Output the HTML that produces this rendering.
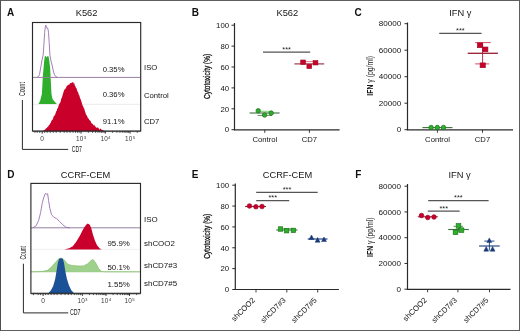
<!DOCTYPE html>
<html><head><meta charset="utf-8"><style>
html,body{margin:0;padding:0;background:#fff;}
#fig{position:relative;width:520px;height:331px;overflow:hidden;background:#fff;}
#fig svg{position:absolute;left:0;top:0;filter:blur(0.35px);}
#fig .bd{position:absolute;left:0;top:0;width:520px;height:331px;box-sizing:border-box;border:1px solid #5e5e5e;border-bottom-width:1.5px;border-left-color:#4e4e4e;}
text{font-family:"Liberation Sans",sans-serif;}
</style></head><body>
<div id="fig">
<svg width="520" height="331" viewBox="0 0 520 331" font-family="Liberation Sans, sans-serif">
<text x="7" y="16" font-size="10" text-anchor="start" font-weight="bold" fill="#111" >A</text>
<text x="191.8" y="16" font-size="10" text-anchor="start" font-weight="bold" fill="#111" >B</text>
<text x="354.5" y="16" font-size="10" text-anchor="start" font-weight="bold" fill="#111" >C</text>
<text x="7.2" y="177.8" font-size="10" text-anchor="start" font-weight="bold" fill="#111" >D</text>
<text x="191.8" y="178.3" font-size="10" text-anchor="start" font-weight="bold" fill="#111" >E</text>
<text x="355.2" y="178.3" font-size="10" text-anchor="start" font-weight="bold" fill="#111" >F</text>
<text x="86.6" y="15.9" font-size="9.3" text-anchor="middle" font-weight="normal" fill="#141414" >K562</text>
<text x="287.3" y="15.9" font-size="9.3" text-anchor="middle" font-weight="normal" fill="#141414" >K562</text>
<text x="460.3" y="15.9" font-size="9.3" text-anchor="middle" font-weight="normal" fill="#141414" >IFN γ</text>
<text x="85.5" y="178.3" font-size="9.3" text-anchor="middle" font-weight="normal" fill="#141414" >CCRF-CEM</text>
<text x="287.5" y="178.3" font-size="9.3" text-anchor="middle" font-weight="normal" fill="#141414" >CCRF-CEM</text>
<text x="459.6" y="178.3" font-size="9.3" text-anchor="middle" font-weight="normal" fill="#141414" >IFN γ</text>
<line x1="32.5" y1="104.3" x2="140.7" y2="104.3" stroke="#e6e6e6" stroke-width="0.8"/>
<path d="M43,131 L43.00,130.80 L43.55,130.48 L44.10,130.17 L44.65,129.85 L45.20,129.53 L45.75,128.84 L46.30,128.00 L46.85,128.37 L47.40,126.81 L47.95,127.11 L48.50,126.12 L49.05,124.85 L49.60,124.96 L50.15,123.37 L50.70,123.01 L51.25,121.28 L51.80,120.24 L52.35,119.76 L52.90,119.33 L53.45,116.92 L54.00,115.95 L54.55,115.51 L55.10,114.83 L55.65,112.89 L56.20,111.30 L56.75,111.08 L57.30,108.14 L57.85,108.39 L58.40,106.19 L58.95,104.74 L59.50,103.52 L60.05,102.68 L60.60,102.00 L61.15,99.12 L61.70,98.10 L62.25,96.47 L62.80,94.27 L63.35,92.87 L63.90,90.66 L64.45,89.64 L65.00,88.89 L65.55,88.74 L66.10,87.39 L66.65,86.29 L67.20,85.88 L67.75,85.08 L68.30,84.44 L68.85,84.96 L69.40,84.42 L69.95,83.18 L70.50,83.33 L71.05,82.81 L71.60,83.01 L72.15,82.33 L72.70,82.04 L73.25,84.03 L73.80,82.06 L74.35,83.48 L74.90,85.70 L75.45,86.23 L76.00,87.96 L76.55,88.23 L77.10,90.44 L77.65,91.69 L78.20,92.59 L78.75,94.69 L79.30,95.22 L79.85,97.45 L80.40,98.82 L80.95,100.34 L81.50,101.64 L82.05,103.83 L82.60,105.52 L83.15,106.17 L83.70,108.01 L84.25,108.43 L84.80,111.00 L85.35,112.25 L85.90,114.22 L86.45,115.27 L87.00,115.65 L87.55,117.18 L88.10,118.73 L88.65,118.34 L89.20,119.91 L89.75,120.16 L90.30,120.85 L90.85,121.52 L91.40,123.58 L91.95,123.17 L92.50,123.77 L93.05,124.41 L93.60,125.66 L94.15,124.62 L94.70,125.67 L95.25,126.24 L95.80,127.23 L96.35,127.50 L96.90,127.96 L97.45,127.30 L98.00,127.85 L98.55,128.02 L99.10,129.24 L99.65,129.65 L100.20,128.47 L100.75,128.79 L101.30,129.61 L101.85,129.82 L102.40,130.02 L102.95,130.22 L103.50,130.43 L104.05,130.63 L104.5,131 Z" fill="#c8002a"/>
<path d="M38.4,104 L40.1,101 L41.9,94 L42.8,77 L43.6,67.5 L44.3,60 L44.9,56.2 L45.6,55.8 L46.3,57.5 L47,56.8 L47.8,56 L48.6,56.5 L49.2,60 L50.1,67.5 L50.6,77 L51.5,94 L52.5,99 L54.1,101 L56.8,104 Z" fill="#2fae2c"/>
<line x1="32.5" y1="77.4" x2="140.7" y2="77.4" stroke="#9580a3" stroke-width="1.0"/>
<path d="M37,77.4 L38.5,76.6 L39.5,74.5 L40.1,71 L41,66 L42,60 L43.2,54.9 L44,42.6 L44.7,32.3 L45.3,27 L45.8,25.1 L46.4,26.5 L47,28.5 L47.8,28.2 L48.5,32.3 L49.2,42.6 L49.9,54.9 L51,61 L52.3,66 L53.3,71 L54.5,74.8 L55.8,76.6 L57.5,77.4" fill="none" stroke="#9a70b0" stroke-width="0.9"/>
<rect x="32.5" y="22.5" width="108.19999999999999" height="108.5" fill="none" stroke="#2a2a2a" stroke-width="1.15"/>
<line x1="42.2" y1="131.0" x2="42.2" y2="133.6" stroke="#2a2a2a" stroke-width="1.0"/>
<line x1="81.0" y1="131.0" x2="81.0" y2="133.6" stroke="#2a2a2a" stroke-width="1.0"/>
<line x1="105.3" y1="131.0" x2="105.3" y2="133.6" stroke="#2a2a2a" stroke-width="1.0"/>
<line x1="130.0" y1="131.0" x2="130.0" y2="133.6" stroke="#2a2a2a" stroke-width="1.0"/>
<line x1="88.31502889463474" y1="131.0" x2="88.31502889463474" y2="132.8" stroke="#2a2a2a" stroke-width="0.8"/>
<line x1="92.5940464896878" y1="131.0" x2="92.5940464896878" y2="132.8" stroke="#2a2a2a" stroke-width="0.8"/>
<line x1="95.63005778926949" y1="131.0" x2="95.63005778926949" y2="132.8" stroke="#2a2a2a" stroke-width="0.8"/>
<line x1="97.98497110536526" y1="131.0" x2="97.98497110536526" y2="132.8" stroke="#2a2a2a" stroke-width="0.8"/>
<line x1="99.90907538432253" y1="131.0" x2="99.90907538432253" y2="132.8" stroke="#2a2a2a" stroke-width="0.8"/>
<line x1="101.53588237234644" y1="131.0" x2="101.53588237234644" y2="132.8" stroke="#2a2a2a" stroke-width="0.8"/>
<line x1="102.94508668390422" y1="131.0" x2="102.94508668390422" y2="132.8" stroke="#2a2a2a" stroke-width="0.8"/>
<line x1="104.1880929793756" y1="131.0" x2="104.1880929793756" y2="132.8" stroke="#2a2a2a" stroke-width="0.8"/>
<line x1="112.61502889463473" y1="131.0" x2="112.61502889463473" y2="132.8" stroke="#2a2a2a" stroke-width="0.8"/>
<line x1="116.8940464896878" y1="131.0" x2="116.8940464896878" y2="132.8" stroke="#2a2a2a" stroke-width="0.8"/>
<line x1="119.93005778926948" y1="131.0" x2="119.93005778926948" y2="132.8" stroke="#2a2a2a" stroke-width="0.8"/>
<line x1="122.28497110536526" y1="131.0" x2="122.28497110536526" y2="132.8" stroke="#2a2a2a" stroke-width="0.8"/>
<line x1="124.20907538432253" y1="131.0" x2="124.20907538432253" y2="132.8" stroke="#2a2a2a" stroke-width="0.8"/>
<line x1="125.83588237234643" y1="131.0" x2="125.83588237234643" y2="132.8" stroke="#2a2a2a" stroke-width="0.8"/>
<line x1="127.24508668390422" y1="131.0" x2="127.24508668390422" y2="132.8" stroke="#2a2a2a" stroke-width="0.8"/>
<line x1="128.48809297937558" y1="131.0" x2="128.48809297937558" y2="132.8" stroke="#2a2a2a" stroke-width="0.8"/>
<line x1="35.0" y1="131.0" x2="35.0" y2="132.8" stroke="#2a2a2a" stroke-width="0.8"/>
<line x1="37.2" y1="131.0" x2="37.2" y2="132.8" stroke="#2a2a2a" stroke-width="0.8"/>
<line x1="39.7" y1="131.0" x2="39.7" y2="132.8" stroke="#2a2a2a" stroke-width="0.8"/>
<line x1="44.7" y1="131.0" x2="44.7" y2="132.8" stroke="#2a2a2a" stroke-width="0.8"/>
<line x1="47.2" y1="131.0" x2="47.2" y2="132.8" stroke="#2a2a2a" stroke-width="0.8"/>
<line x1="50.2" y1="131.0" x2="50.2" y2="132.8" stroke="#2a2a2a" stroke-width="0.8"/>
<line x1="53.2" y1="131.0" x2="53.2" y2="132.8" stroke="#2a2a2a" stroke-width="0.8"/>
<line x1="56.2" y1="131.0" x2="56.2" y2="132.8" stroke="#2a2a2a" stroke-width="0.8"/>
<line x1="60.2" y1="131.0" x2="60.2" y2="132.8" stroke="#2a2a2a" stroke-width="0.8"/>
<line x1="64.2" y1="131.0" x2="64.2" y2="132.8" stroke="#2a2a2a" stroke-width="0.8"/>
<line x1="67.0" y1="131.0" x2="67.0" y2="132.8" stroke="#2a2a2a" stroke-width="0.8"/>
<line x1="70.0" y1="131.0" x2="70.0" y2="132.8" stroke="#2a2a2a" stroke-width="0.8"/>
<line x1="73.0" y1="131.0" x2="73.0" y2="132.8" stroke="#2a2a2a" stroke-width="0.8"/>
<line x1="75.5" y1="131.0" x2="75.5" y2="132.8" stroke="#2a2a2a" stroke-width="0.8"/>
<line x1="77.5" y1="131.0" x2="77.5" y2="132.8" stroke="#2a2a2a" stroke-width="0.8"/>
<line x1="79.2" y1="131.0" x2="79.2" y2="132.8" stroke="#2a2a2a" stroke-width="0.8"/>
<line x1="137.31502889463474" y1="131.0" x2="137.31502889463474" y2="132.8" stroke="#2a2a2a" stroke-width="0.8"/>
<line x1="32.5" y1="131.6" x2="140.7" y2="131.6" stroke="#333" stroke-width="0.7"/>
<text x="42.2" y="141.0" font-size="6.6" text-anchor="middle" font-weight="normal" fill="#3a3a3a" >0</text>
<text x="81.2" y="141.0" font-size="6.4" text-anchor="middle" fill="#3a3a3a" letter-spacing="0.2">10<tspan font-size="4.4" dy="-2.4">3</tspan></text>
<text x="105.5" y="141.0" font-size="6.4" text-anchor="middle" fill="#3a3a3a" letter-spacing="0.2">10<tspan font-size="4.4" dy="-2.4">4</tspan></text>
<text x="130.2" y="141.0" font-size="6.4" text-anchor="middle" fill="#3a3a3a" letter-spacing="0.2">10<tspan font-size="4.4" dy="-2.4">5</tspan></text>
<text x="113.6" y="71.6" font-size="7.7" text-anchor="middle" font-weight="normal" fill="#141414" >0.35%</text>
<text x="113.6" y="96.6" font-size="7.7" text-anchor="middle" font-weight="normal" fill="#141414" >0.36%</text>
<text x="113.6" y="124.2" font-size="7.7" text-anchor="middle" font-weight="normal" fill="#141414" >91.1%</text>
<text x="144.0" y="70.2" font-size="7.7" text-anchor="start" font-weight="normal" fill="#141414" >ISO</text>
<text x="144.0" y="97.7" font-size="7.7" text-anchor="start" font-weight="normal" fill="#141414" >Control</text>
<text x="144.0" y="124.2" font-size="7.7" text-anchor="start" font-weight="normal" fill="#141414" >CD7</text>
<line x1="22.4" y1="100" x2="22.4" y2="149.4" stroke="#2a2a2a" stroke-width="1.0"/>
<line x1="22.4" y1="149.4" x2="68.2" y2="149.4" stroke="#2a2a2a" stroke-width="1.0"/>
<text transform="translate(22.1,89.1) rotate(-90) scale(0.6399,1)" x="0" y="0" font-size="8.2" text-anchor="middle" fill="#141414" font-weight="normal" stroke="#141414" stroke-width="0" dominant-baseline="central">Count</text>
<text transform="translate(71.7,151.9) scale(0.6279,1)" x="0" y="0" font-size="8.2" fill="#141414" font-weight="normal">CD7</text>
<line x1="30.9" y1="227.8" x2="140.5" y2="227.8" stroke="#9580a3" stroke-width="1.0"/>
<path d="M32.7,227.9 L36,225.9 L38.6,220.6 L40.6,212.6 L42.2,203.3 L43.6,198 L44.9,194.2 L46,193.3 L47,194.6 L47.6,193.7 L48.6,200.6 L49.9,208.6 L51.5,214.6 L53.9,217.3 L56.6,218.6 L59.3,221.2 L62.6,224.6 L65.9,227.2 L69.9,227.9" fill="none" stroke="#9a70b0" stroke-width="0.9"/>
<line x1="30.9" y1="249.4" x2="140.5" y2="249.4" stroke="#ececec" stroke-width="0.8"/>
<path d="M64.1,249.4 L69.2,248.3 L72.8,246.3 L76.4,241.6 L80,235.5 L82.6,230.3 L84.7,226.7 L86.2,224.7 L87.7,223.6 L89.8,224.7 L91.3,228.3 L92.9,234.4 L94.9,240.6 L97,245.2 L99.6,248.3 L101.6,249.4 Z" fill="#c8002a"/>
<path d="M30.9,271.8 L40,271.6 L43.2,271.3 L47.5,270.3 L51.9,266.6 L55.6,262.2 L58.5,259 L60.8,258.1 L62.5,258.6 L64.4,260 L66,262.2 L68,264.4 L72.4,265.5 L78.2,265.9 L83.4,265.9 L87.7,263.7 L90.7,260.8 L92.9,259.3 L95.8,263 L98.7,268.8 L101.6,271.3 L104,271.8 L140.5,271.8 Z" fill="#9fd08c" stroke="#7cbc68" stroke-width="0.6"/>
<path d="M48.3,293.3 L50.8,290.5 L53.2,286 L55.2,279 L56.6,270.5 L57.9,262.4 L59.1,258.8 L60.9,258.2 L62.8,258.8 L63.9,262.4 L65.2,270.5 L66.8,278.5 L69,285.5 L71.3,290.2 L74.2,293.3 Z" fill="#1b5197"/>
<rect x="30.9" y="183.4" width="109.6" height="109.9" fill="none" stroke="#2a2a2a" stroke-width="1.15"/>
<line x1="43.1" y1="293.3" x2="43.1" y2="295.90000000000003" stroke="#2a2a2a" stroke-width="1.0"/>
<line x1="82.3" y1="293.3" x2="82.3" y2="295.90000000000003" stroke="#2a2a2a" stroke-width="1.0"/>
<line x1="106.0" y1="293.3" x2="106.0" y2="295.90000000000003" stroke="#2a2a2a" stroke-width="1.0"/>
<line x1="129.5" y1="293.3" x2="129.5" y2="295.90000000000003" stroke="#2a2a2a" stroke-width="1.0"/>
<line x1="89.43441089723635" y1="293.3" x2="89.43441089723635" y2="295.1" stroke="#2a2a2a" stroke-width="0.8"/>
<line x1="93.607773736856" y1="293.3" x2="93.607773736856" y2="295.1" stroke="#2a2a2a" stroke-width="0.8"/>
<line x1="96.56882179447271" y1="293.3" x2="96.56882179447271" y2="295.1" stroke="#2a2a2a" stroke-width="0.8"/>
<line x1="98.86558910276365" y1="293.3" x2="98.86558910276365" y2="295.1" stroke="#2a2a2a" stroke-width="0.8"/>
<line x1="100.74218463409235" y1="293.3" x2="100.74218463409235" y2="295.1" stroke="#2a2a2a" stroke-width="0.8"/>
<line x1="102.32882354833788" y1="293.3" x2="102.32882354833788" y2="295.1" stroke="#2a2a2a" stroke-width="0.8"/>
<line x1="103.70323269170906" y1="293.3" x2="103.70323269170906" y2="295.1" stroke="#2a2a2a" stroke-width="0.8"/>
<line x1="104.915547473712" y1="293.3" x2="104.915547473712" y2="295.1" stroke="#2a2a2a" stroke-width="0.8"/>
<line x1="113.13441089723635" y1="293.3" x2="113.13441089723635" y2="295.1" stroke="#2a2a2a" stroke-width="0.8"/>
<line x1="117.307773736856" y1="293.3" x2="117.307773736856" y2="295.1" stroke="#2a2a2a" stroke-width="0.8"/>
<line x1="120.26882179447271" y1="293.3" x2="120.26882179447271" y2="295.1" stroke="#2a2a2a" stroke-width="0.8"/>
<line x1="122.56558910276365" y1="293.3" x2="122.56558910276365" y2="295.1" stroke="#2a2a2a" stroke-width="0.8"/>
<line x1="124.44218463409236" y1="293.3" x2="124.44218463409236" y2="295.1" stroke="#2a2a2a" stroke-width="0.8"/>
<line x1="126.0288235483379" y1="293.3" x2="126.0288235483379" y2="295.1" stroke="#2a2a2a" stroke-width="0.8"/>
<line x1="127.40323269170906" y1="293.3" x2="127.40323269170906" y2="295.1" stroke="#2a2a2a" stroke-width="0.8"/>
<line x1="128.615547473712" y1="293.3" x2="128.615547473712" y2="295.1" stroke="#2a2a2a" stroke-width="0.8"/>
<line x1="33.4" y1="293.3" x2="33.4" y2="295.1" stroke="#2a2a2a" stroke-width="0.8"/>
<line x1="38.1" y1="293.3" x2="38.1" y2="295.1" stroke="#2a2a2a" stroke-width="0.8"/>
<line x1="40.6" y1="293.3" x2="40.6" y2="295.1" stroke="#2a2a2a" stroke-width="0.8"/>
<line x1="45.6" y1="293.3" x2="45.6" y2="295.1" stroke="#2a2a2a" stroke-width="0.8"/>
<line x1="48.1" y1="293.3" x2="48.1" y2="295.1" stroke="#2a2a2a" stroke-width="0.8"/>
<line x1="51.1" y1="293.3" x2="51.1" y2="295.1" stroke="#2a2a2a" stroke-width="0.8"/>
<line x1="54.1" y1="293.3" x2="54.1" y2="295.1" stroke="#2a2a2a" stroke-width="0.8"/>
<line x1="57.1" y1="293.3" x2="57.1" y2="295.1" stroke="#2a2a2a" stroke-width="0.8"/>
<line x1="61.1" y1="293.3" x2="61.1" y2="295.1" stroke="#2a2a2a" stroke-width="0.8"/>
<line x1="65.1" y1="293.3" x2="65.1" y2="295.1" stroke="#2a2a2a" stroke-width="0.8"/>
<line x1="68.3" y1="293.3" x2="68.3" y2="295.1" stroke="#2a2a2a" stroke-width="0.8"/>
<line x1="71.3" y1="293.3" x2="71.3" y2="295.1" stroke="#2a2a2a" stroke-width="0.8"/>
<line x1="74.3" y1="293.3" x2="74.3" y2="295.1" stroke="#2a2a2a" stroke-width="0.8"/>
<line x1="76.8" y1="293.3" x2="76.8" y2="295.1" stroke="#2a2a2a" stroke-width="0.8"/>
<line x1="78.8" y1="293.3" x2="78.8" y2="295.1" stroke="#2a2a2a" stroke-width="0.8"/>
<line x1="80.5" y1="293.3" x2="80.5" y2="295.1" stroke="#2a2a2a" stroke-width="0.8"/>
<line x1="136.63441089723636" y1="293.3" x2="136.63441089723636" y2="295.1" stroke="#2a2a2a" stroke-width="0.8"/>
<line x1="30.9" y1="293.90000000000003" x2="140.5" y2="293.90000000000003" stroke="#333" stroke-width="0.7"/>
<text x="43.1" y="303.4" font-size="6.6" text-anchor="middle" font-weight="normal" fill="#3a3a3a" >0</text>
<text x="82.5" y="303.4" font-size="6.4" text-anchor="middle" fill="#3a3a3a" letter-spacing="0.2">10<tspan font-size="4.4" dy="-2.4">3</tspan></text>
<text x="106.2" y="303.4" font-size="6.4" text-anchor="middle" fill="#3a3a3a" letter-spacing="0.2">10<tspan font-size="4.4" dy="-2.4">4</tspan></text>
<text x="129.7" y="303.4" font-size="6.4" text-anchor="middle" fill="#3a3a3a" letter-spacing="0.2">10<tspan font-size="4.4" dy="-2.4">5</tspan></text>
<text x="118.6" y="246.4" font-size="7.9" text-anchor="middle" font-weight="normal" fill="#141414" >95.9%</text>
<text x="118.6" y="269.9" font-size="7.9" text-anchor="middle" font-weight="normal" fill="#141414" >50.1%</text>
<text x="118.6" y="287.3" font-size="7.9" text-anchor="middle" font-weight="normal" fill="#141414" >1.55%</text>
<text x="144.0" y="221.6" font-size="7.95" text-anchor="start" font-weight="normal" fill="#141414" >ISO</text>
<text x="144.0" y="246.3" font-size="7.95" text-anchor="start" font-weight="normal" fill="#141414" >shCOO2</text>
<text x="144.0" y="267.6" font-size="7.95" text-anchor="start" font-weight="normal" fill="#141414" >shCD7#3</text>
<text x="144.0" y="285.5" font-size="7.95" text-anchor="start" font-weight="normal" fill="#141414" >shCD7#5</text>
<line x1="23.4" y1="263.7" x2="23.4" y2="312.9" stroke="#2a2a2a" stroke-width="1.0"/>
<line x1="23.4" y1="312.9" x2="68.2" y2="312.9" stroke="#2a2a2a" stroke-width="1.0"/>
<text transform="translate(22.8,252.8) rotate(-90) scale(0.6141,1)" x="0" y="0" font-size="8.3" text-anchor="middle" fill="#141414" font-weight="normal" stroke="#141414" stroke-width="0" dominant-baseline="central">Count</text>
<text transform="translate(69.9,315.4) scale(0.6462,1)" x="0" y="0" font-size="8.2" fill="#141414" font-weight="normal">CD7</text>
<line x1="234.5" y1="23.0" x2="234.5" y2="130.2" stroke="#2a2a2a" stroke-width="1.2"/>
<line x1="231.5" y1="129.7" x2="234.5" y2="129.7" stroke="#2a2a2a" stroke-width="1.0"/>
<text x="229.1" y="132.45" font-size="7.8" text-anchor="end" font-weight="normal" fill="#141414" >0</text>
<line x1="231.5" y1="108.79999999999998" x2="234.5" y2="108.79999999999998" stroke="#2a2a2a" stroke-width="1.0"/>
<text x="229.1" y="111.54999999999998" font-size="7.8" text-anchor="end" font-weight="normal" fill="#141414" >20</text>
<line x1="231.5" y1="87.89999999999999" x2="234.5" y2="87.89999999999999" stroke="#2a2a2a" stroke-width="1.0"/>
<text x="229.1" y="90.64999999999999" font-size="7.8" text-anchor="end" font-weight="normal" fill="#141414" >40</text>
<line x1="231.5" y1="67.0" x2="234.5" y2="67.0" stroke="#2a2a2a" stroke-width="1.0"/>
<text x="229.1" y="69.75" font-size="7.8" text-anchor="end" font-weight="normal" fill="#141414" >60</text>
<line x1="231.5" y1="46.099999999999994" x2="234.5" y2="46.099999999999994" stroke="#2a2a2a" stroke-width="1.0"/>
<text x="229.1" y="48.849999999999994" font-size="7.8" text-anchor="end" font-weight="normal" fill="#141414" >80</text>
<line x1="231.5" y1="25.19999999999999" x2="234.5" y2="25.19999999999999" stroke="#2a2a2a" stroke-width="1.0"/>
<text x="229.1" y="27.94999999999999" font-size="7.8" text-anchor="end" font-weight="normal" fill="#141414" >100</text>
<line x1="233.9" y1="129.9" x2="339.6" y2="129.9" stroke="#2a2a2a" stroke-width="1.2"/>
<line x1="264.8" y1="129.9" x2="264.8" y2="132.9" stroke="#2a2a2a" stroke-width="0.9"/>
<line x1="309.4" y1="129.9" x2="309.4" y2="132.9" stroke="#2a2a2a" stroke-width="0.9"/>
<text x="264.8" y="142.1" font-size="7.7" text-anchor="middle" font-weight="normal" fill="#141414" >Control</text>
<text x="309.4" y="142.1" font-size="7.7" text-anchor="middle" font-weight="normal" fill="#141414" >CD7</text>
<text transform="translate(207.3,76.4) rotate(-90) scale(0.7937,1)" x="0" y="0" font-size="8.2" text-anchor="middle" fill="#141414" font-weight="normal" stroke="#141414" stroke-width="0.3" dominant-baseline="central">Cytotoxicity (%)</text>
<line x1="263" y1="52.0" x2="310.2" y2="52.0" stroke="#555555" stroke-width="1.25"/>
<text x="286.6" y="51.5" font-size="7.4" text-anchor="middle" font-weight="normal" fill="#222" >***</text>
<line x1="257.5" y1="111.3" x2="272" y2="111.3" stroke="#58c050" stroke-width="0.8"/>
<line x1="257.5" y1="115.4" x2="272" y2="115.4" stroke="#3d6e3d" stroke-width="0.8"/>
<line x1="249.6" y1="113.0" x2="279.6" y2="113.0" stroke="#3d6e3d" stroke-width="1.1"/>
<circle cx="258.2" cy="110.8" r="2.25" fill="#2fae2c" stroke="#1c6e1c" stroke-width="0.7"/>
<circle cx="264.6" cy="115.0" r="2.25" fill="#2fae2c" stroke="#1c6e1c" stroke-width="0.7"/>
<circle cx="271.2" cy="113.1" r="2.25" fill="#2fae2c" stroke="#1c6e1c" stroke-width="0.7"/>
<line x1="305" y1="61.6" x2="313" y2="61.6" stroke="#e05068" stroke-width="0.8"/>
<line x1="294.4" y1="63.9" x2="324.2" y2="63.9" stroke="#8e2a3c" stroke-width="1.1"/>
<rect x="300.70000000000005" y="60.0" width="4.8" height="4.4" fill="#c8002a" stroke="#9a0a26" stroke-width="0.6"/>
<rect x="306.90000000000003" y="64.2" width="4.8" height="4.4" fill="#c8002a" stroke="#9a0a26" stroke-width="0.6"/>
<rect x="313.1" y="60.599999999999994" width="4.8" height="4.4" fill="#c8002a" stroke="#9a0a26" stroke-width="0.6"/>
<line x1="407.5" y1="22.5" x2="407.5" y2="130.2" stroke="#2a2a2a" stroke-width="1.2"/>
<line x1="404.5" y1="129.7" x2="407.5" y2="129.7" stroke="#2a2a2a" stroke-width="1.0"/>
<text x="401.2" y="132.45" font-size="8.1" text-anchor="end" font-weight="normal" fill="#141414" >0</text>
<line x1="404.5" y1="103.19999999999999" x2="407.5" y2="103.19999999999999" stroke="#2a2a2a" stroke-width="1.0"/>
<text x="401.2" y="105.94999999999999" font-size="8.1" text-anchor="end" font-weight="normal" fill="#141414" >20000</text>
<line x1="404.5" y1="76.69999999999999" x2="407.5" y2="76.69999999999999" stroke="#2a2a2a" stroke-width="1.0"/>
<text x="401.2" y="79.44999999999999" font-size="8.1" text-anchor="end" font-weight="normal" fill="#141414" >40000</text>
<line x1="404.5" y1="50.19999999999999" x2="407.5" y2="50.19999999999999" stroke="#2a2a2a" stroke-width="1.0"/>
<text x="401.2" y="52.94999999999999" font-size="8.1" text-anchor="end" font-weight="normal" fill="#141414" >60000</text>
<line x1="404.5" y1="23.69999999999999" x2="407.5" y2="23.69999999999999" stroke="#2a2a2a" stroke-width="1.0"/>
<text x="401.2" y="26.44999999999999" font-size="8.1" text-anchor="end" font-weight="normal" fill="#141414" >80000</text>
<line x1="406.9" y1="129.8" x2="513.0" y2="129.8" stroke="#2a2a2a" stroke-width="1.2"/>
<line x1="437.4" y1="129.8" x2="437.4" y2="132.8" stroke="#2a2a2a" stroke-width="0.9"/>
<line x1="482.5" y1="129.8" x2="482.5" y2="132.8" stroke="#2a2a2a" stroke-width="0.9"/>
<text x="437.5" y="142.3" font-size="7.7" text-anchor="middle" font-weight="normal" fill="#141414" >Control</text>
<text x="482.5" y="142.3" font-size="7.7" text-anchor="middle" font-weight="normal" fill="#141414" >CD7</text>
<text transform="translate(370.1,75.8) rotate(-90) scale(0.8401,1)" x="0" y="0" font-size="8.2" text-anchor="middle" fill="#141414" dominant-baseline="central"><tspan font-weight="bold">IFN</tspan> γ (pg/ml)</text>
<line x1="439.2" y1="33.3" x2="481.6" y2="33.3" stroke="#555555" stroke-width="1.25"/>
<text x="460.4" y="32.6" font-size="7.4" text-anchor="middle" font-weight="normal" fill="#222" >***</text>
<line x1="422.4" y1="127.6" x2="452.5" y2="127.6" stroke="#3d6e3d" stroke-width="1.1"/>
<circle cx="431.1" cy="127.5" r="2.25" fill="#2fae2c" stroke="#1c6e1c" stroke-width="0.7"/>
<circle cx="437.3" cy="127.5" r="2.25" fill="#2fae2c" stroke="#1c6e1c" stroke-width="0.7"/>
<circle cx="443.5" cy="127.5" r="2.25" fill="#2fae2c" stroke="#1c6e1c" stroke-width="0.7"/>
<line x1="482.6" y1="42.6" x2="482.6" y2="63.9" stroke="#b01838" stroke-width="0.9"/>
<line x1="475.2" y1="42.6" x2="490.7" y2="42.6" stroke="#d84860" stroke-width="1.0"/>
<line x1="475.2" y1="63.9" x2="489.2" y2="63.9" stroke="#d84860" stroke-width="1.0"/>
<line x1="467.7" y1="53.3" x2="497.9" y2="53.3" stroke="#9a1a34" stroke-width="1.3"/>
<rect x="477.4" y="42.9" width="5.2" height="4.8" fill="#c8002a" stroke="#9a0a26" stroke-width="0.6"/>
<rect x="482.7" y="47.0" width="5.2" height="4.8" fill="#c8002a" stroke="#9a0a26" stroke-width="0.6"/>
<rect x="480.09999999999997" y="62.9" width="5.2" height="4.8" fill="#c8002a" stroke="#9a0a26" stroke-width="0.6"/>
<line x1="235.3" y1="183.5" x2="235.3" y2="290.0" stroke="#2a2a2a" stroke-width="1.2"/>
<line x1="232.3" y1="289.5" x2="235.3" y2="289.5" stroke="#2a2a2a" stroke-width="1.0"/>
<text x="229.1" y="292.25" font-size="7.8" text-anchor="end" font-weight="normal" fill="#141414" >0</text>
<line x1="232.3" y1="268.64" x2="235.3" y2="268.64" stroke="#2a2a2a" stroke-width="1.0"/>
<text x="229.1" y="271.39" font-size="7.8" text-anchor="end" font-weight="normal" fill="#141414" >20</text>
<line x1="232.3" y1="247.78" x2="235.3" y2="247.78" stroke="#2a2a2a" stroke-width="1.0"/>
<text x="229.1" y="250.53" font-size="7.8" text-anchor="end" font-weight="normal" fill="#141414" >40</text>
<line x1="232.3" y1="226.92000000000002" x2="235.3" y2="226.92000000000002" stroke="#2a2a2a" stroke-width="1.0"/>
<text x="229.1" y="229.67000000000002" font-size="7.8" text-anchor="end" font-weight="normal" fill="#141414" >60</text>
<line x1="232.3" y1="206.06" x2="235.3" y2="206.06" stroke="#2a2a2a" stroke-width="1.0"/>
<text x="229.1" y="208.81" font-size="7.8" text-anchor="end" font-weight="normal" fill="#141414" >80</text>
<line x1="232.3" y1="185.2" x2="235.3" y2="185.2" stroke="#2a2a2a" stroke-width="1.0"/>
<text x="229.1" y="187.95" font-size="7.8" text-anchor="end" font-weight="normal" fill="#141414" >100</text>
<line x1="234.70000000000002" y1="289.5" x2="338.9" y2="289.5" stroke="#2a2a2a" stroke-width="1.2"/>
<line x1="256.0" y1="289.5" x2="256.0" y2="292.5" stroke="#2a2a2a" stroke-width="0.9"/>
<line x1="286.8" y1="289.5" x2="286.8" y2="292.5" stroke="#2a2a2a" stroke-width="0.9"/>
<line x1="317.7" y1="289.5" x2="317.7" y2="292.5" stroke="#2a2a2a" stroke-width="0.9"/>
<text transform="translate(207.3,236.3) rotate(-90) scale(0.7937,1)" x="0" y="0" font-size="8.2" text-anchor="middle" fill="#141414" font-weight="normal" stroke="#141414" stroke-width="0.3" dominant-baseline="central">Cytotoxicity (%)</text>
<line x1="256.2" y1="192.3" x2="317.7" y2="192.3" stroke="#555555" stroke-width="1.25"/>
<text x="286.95" y="191.79999999999998" font-size="7.4" text-anchor="middle" font-weight="normal" fill="#222" >***</text>
<line x1="256.2" y1="200.7" x2="289.2" y2="200.7" stroke="#555555" stroke-width="1.25"/>
<text x="272.7" y="200.2" font-size="7.4" text-anchor="middle" font-weight="normal" fill="#222" >***</text>
<line x1="245.0" y1="206.5" x2="266.0" y2="206.5" stroke="#8e2a3c" stroke-width="1.1"/>
<circle cx="249.5" cy="206.0" r="2.3" fill="#c8002a" stroke="#9a0a26" stroke-width="0.7"/>
<circle cx="255.9" cy="206.75" r="2.3" fill="#c8002a" stroke="#9a0a26" stroke-width="0.7"/>
<circle cx="262.0" cy="206.5" r="2.3" fill="#c8002a" stroke="#9a0a26" stroke-width="0.7"/>
<line x1="280" y1="228.5" x2="293" y2="228.5" stroke="#58c050" stroke-width="0.8"/>
<line x1="276.3" y1="230.0" x2="297.5" y2="230.0" stroke="#3d6e3d" stroke-width="1.1"/>
<rect x="278.25" y="226.75" width="4.5" height="4.5" fill="#2fae2c" stroke="#1c6e1c" stroke-width="0.6"/>
<rect x="284.35" y="228.45" width="4.5" height="4.5" fill="#2fae2c" stroke="#1c6e1c" stroke-width="0.6"/>
<rect x="291.15" y="228.15" width="4.5" height="4.5" fill="#2fae2c" stroke="#1c6e1c" stroke-width="0.6"/>
<line x1="307.7" y1="239.0" x2="327.5" y2="239.0" stroke="#183a78" stroke-width="1.1"/>
<path d="M311.5,235.0 L313.95,239.5 L309.05,239.5 Z" fill="#183a78" stroke="#183a78" stroke-width="0.5" stroke-linejoin="round"/>
<path d="M317.6,237.5 L320.05,242.2 L315.15000000000003,242.2 Z" fill="#183a78" stroke="#183a78" stroke-width="0.5" stroke-linejoin="round"/>
<path d="M324.0,237.0 L326.45,241.5 L321.55,241.5 Z" fill="#183a78" stroke="#183a78" stroke-width="0.5" stroke-linejoin="round"/>
<line x1="407.5" y1="184.0" x2="407.5" y2="289.7" stroke="#2a2a2a" stroke-width="1.2"/>
<line x1="404.5" y1="289.2" x2="407.5" y2="289.2" stroke="#2a2a2a" stroke-width="1.0"/>
<text x="401.0" y="291.95" font-size="8.1" text-anchor="end" font-weight="normal" fill="#141414" >0</text>
<line x1="404.5" y1="263.45" x2="407.5" y2="263.45" stroke="#2a2a2a" stroke-width="1.0"/>
<text x="401.0" y="266.2" font-size="8.1" text-anchor="end" font-weight="normal" fill="#141414" >20000</text>
<line x1="404.5" y1="237.7" x2="407.5" y2="237.7" stroke="#2a2a2a" stroke-width="1.0"/>
<text x="401.0" y="240.45" font-size="8.1" text-anchor="end" font-weight="normal" fill="#141414" >40000</text>
<line x1="404.5" y1="211.95" x2="407.5" y2="211.95" stroke="#2a2a2a" stroke-width="1.0"/>
<text x="401.0" y="214.7" font-size="8.1" text-anchor="end" font-weight="normal" fill="#141414" >60000</text>
<line x1="404.5" y1="186.2" x2="407.5" y2="186.2" stroke="#2a2a2a" stroke-width="1.0"/>
<text x="401.0" y="188.95" font-size="8.1" text-anchor="end" font-weight="normal" fill="#141414" >80000</text>
<line x1="406.9" y1="289.3" x2="510.5" y2="289.3" stroke="#2a2a2a" stroke-width="1.2"/>
<line x1="427.6" y1="289.3" x2="427.6" y2="292.3" stroke="#2a2a2a" stroke-width="0.9"/>
<line x1="457.9" y1="289.3" x2="457.9" y2="292.3" stroke="#2a2a2a" stroke-width="0.9"/>
<line x1="489.5" y1="289.3" x2="489.5" y2="292.3" stroke="#2a2a2a" stroke-width="0.9"/>
<text transform="translate(370.1,237.2) rotate(-90) scale(0.8338,1)" x="0" y="0" font-size="8.2" text-anchor="middle" fill="#141414" dominant-baseline="central"><tspan font-weight="bold">IFN</tspan> γ (pg/ml)</text>
<line x1="428.2" y1="200.5" x2="488.6" y2="200.5" stroke="#555555" stroke-width="1.25"/>
<text x="458.4" y="200.0" font-size="7.4" text-anchor="middle" font-weight="normal" fill="#222" >***</text>
<line x1="427.8" y1="211.0" x2="459.7" y2="211.0" stroke="#555555" stroke-width="1.25"/>
<text x="443.75" y="210.5" font-size="7.4" text-anchor="middle" font-weight="normal" fill="#222" >***</text>
<line x1="417.75" y1="216.75" x2="437.75" y2="216.75" stroke="#8e2a3c" stroke-width="1.1"/>
<circle cx="421.5" cy="215.5" r="2.3" fill="#c8002a" stroke="#9a0a26" stroke-width="0.7"/>
<circle cx="427.75" cy="217.5" r="2.3" fill="#c8002a" stroke="#9a0a26" stroke-width="0.7"/>
<circle cx="434.0" cy="217.0" r="2.3" fill="#c8002a" stroke="#9a0a26" stroke-width="0.7"/>
<line x1="453.5" y1="226.3" x2="463" y2="226.3" stroke="#3d6e3d" stroke-width="0.8"/>
<line x1="458.4" y1="226.3" x2="458.4" y2="232.5" stroke="#3d6e3d" stroke-width="0.8"/>
<line x1="448.2" y1="229.5" x2="468.8" y2="229.5" stroke="#3d6e3d" stroke-width="1.1"/>
<rect x="456.15" y="223.55" width="4.7" height="4.7" fill="#2fae2c" stroke="#1c6e1c" stroke-width="0.6"/>
<rect x="453.15" y="229.95000000000002" width="4.7" height="4.7" fill="#2fae2c" stroke="#1c6e1c" stroke-width="0.6"/>
<rect x="459.15" y="227.85" width="4.7" height="4.7" fill="#2fae2c" stroke="#1c6e1c" stroke-width="0.6"/>
<line x1="479.1" y1="246.0" x2="499.7" y2="246.0" stroke="#183a78" stroke-width="1.1"/>
<line x1="484.3" y1="241.1" x2="494.5" y2="241.1" stroke="#183a78" stroke-width="0.9"/>
<line x1="489.4" y1="241.1" x2="489.4" y2="250.5" stroke="#183a78" stroke-width="0.9"/>
<path d="M489.3,237.9 L491.7,242.5 L486.90000000000003,242.5 Z" fill="#183a78" stroke="#183a78" stroke-width="0.5" stroke-linejoin="round"/>
<path d="M486.2,246.4 L488.59999999999997,251.2 L483.8,251.2 Z" fill="#183a78" stroke="#183a78" stroke-width="0.5" stroke-linejoin="round"/>
<path d="M492.6,246.4 L495.0,251.2 L490.20000000000005,251.2 Z" fill="#183a78" stroke="#183a78" stroke-width="0.5" stroke-linejoin="round"/>
<text transform="translate(253.8,298.9) rotate(-45)" x="0" y="0" font-size="7.7" text-anchor="end" fill="#141414" dominant-baseline="central">shCOO2</text>
<text transform="translate(284.6,298.9) rotate(-45)" x="0" y="0" font-size="7.7" text-anchor="end" fill="#141414" dominant-baseline="central">shCD7#3</text>
<text transform="translate(315.5,298.9) rotate(-45)" x="0" y="0" font-size="7.7" text-anchor="end" fill="#141414" dominant-baseline="central">shCD7#5</text>
<text transform="translate(425.40000000000003,298.9) rotate(-45)" x="0" y="0" font-size="7.7" text-anchor="end" fill="#141414" dominant-baseline="central">shCOO2</text>
<text transform="translate(455.7,298.9) rotate(-45)" x="0" y="0" font-size="7.7" text-anchor="end" fill="#141414" dominant-baseline="central">shCD7#3</text>
<text transform="translate(487.3,298.9) rotate(-45)" x="0" y="0" font-size="7.7" text-anchor="end" fill="#141414" dominant-baseline="central">shCD7#5</text>
</svg>
<div class="bd"></div>
</div>
</body></html>
